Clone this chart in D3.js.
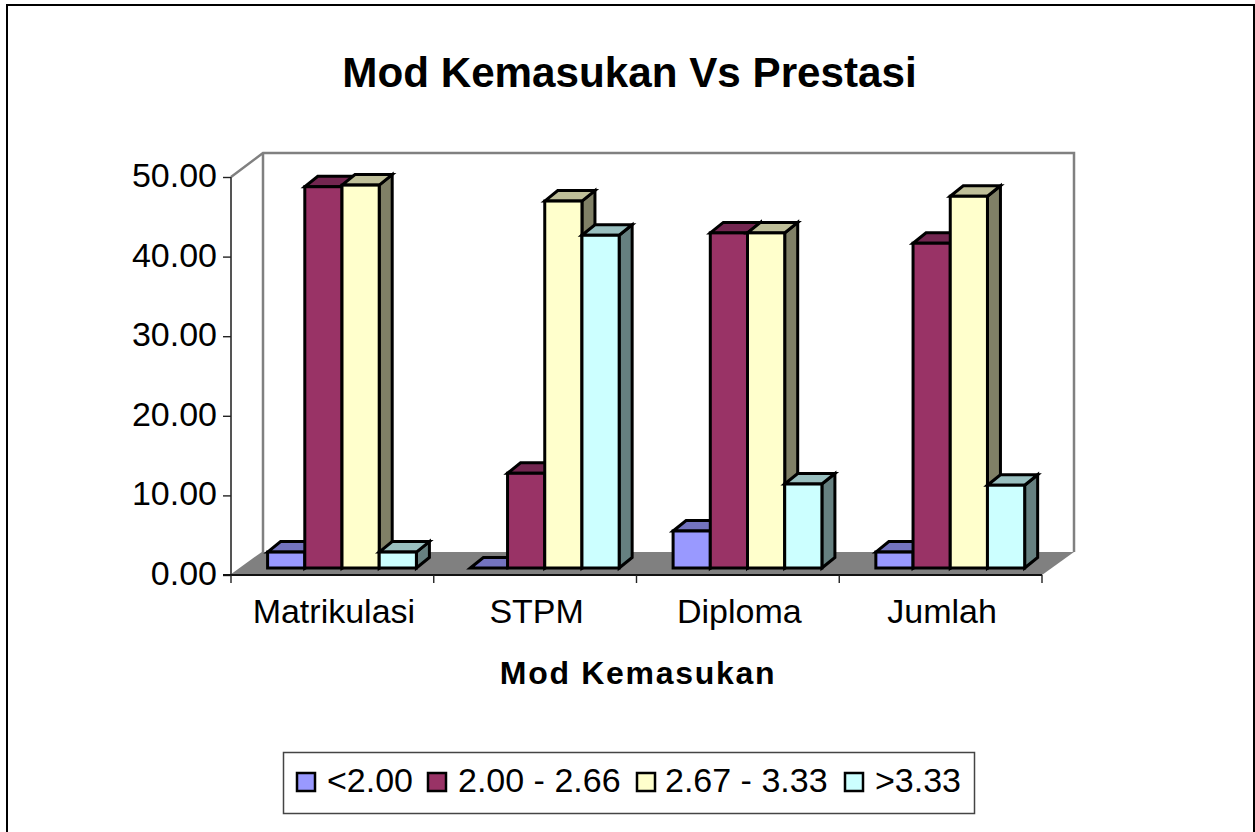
<!DOCTYPE html>
<html><head><meta charset="utf-8"><script src="https://cdn.jsdelivr.net/npm/d3@7"></script>
<style>html,body{margin:0;background:#fff}svg{display:block}text{font-family:"Liberation Sans",Arial,sans-serif;fill:#000}</style></head>
<body><svg id="c" width="1255" height="832"></svg>
<script>
const categories=["Matrikulasi","STPM","Diploma","Jumlah"];
const seriesNames=["<2.00","2.00 - 2.66","2.67 - 3.33",">3.33"];
const lowest=[2.0,0.0,4.65,2.0];
const second=[47.9,11.9,42.1,40.8];
const third=[48.1,46.1,42.1,46.7];
const fourth=[2.0,41.8,10.55,10.4];
const yTicks=[0,10,20,30,40,50];
const front=["#9999ff","#993366","#ffffcc","#ccffff"];
const topC=["#7373bf","#732650","#bfbf99","#99bfbf"];
const sideC=["#4d4d80","#4d1a33","#808066","#668080"];
const seriesValues=[lowest,second,third,fourth];

const svg=d3.select("#c");
const X0=231,X1=1042,YB=575,YT=177,DX=32,DY=23;
const x=d3.scaleBand().domain(categories).range([X0,X1]);
const y=d3.scaleLinear().domain([0,50]).range([YB,YT]);
const inner=d3.scaleBand().domain(d3.range(4)).range([36.6,36.6+37.2*4]);
const line=d3.line();
svg.append("rect").attr("x",7).attr("y",5).attr("width",1247).attr("height",840).attr("fill","#fff").attr("stroke","#000").attr("stroke-width",2);

svg.append("path").attr("d",line([[X0,YB],[X0+DX,YB-DY],[X1+DX,YB-DY],[X1,YB]])+"Z").attr("fill","#808080");
svg.append("path").attr("d",line([[X0,YT],[X0+DX,YT-DY-1],[X1+DX,YT-DY-1],[X1+DX,YB-DY]])).attr("fill","none").attr("stroke","#808080").attr("stroke-width",2.5);
svg.append("path").attr("d",line([[X0+DX,YT-DY-1],[X0+DX,YB-DY]])).attr("fill","none").attr("stroke","#808080").attr("stroke-width",2.5);
svg.append("path").attr("d",line([[X0,YB],[X0+DX,YB-DY]])).attr("stroke","#808080").attr("stroke-width",1.5);

const base=y(0)-7, bdx=13, bdy=10.5;
categories.forEach((c,ci)=>{
  seriesValues.forEach((vals,si)=>{
    const l=x(c)+inner(si), r=l+inner.bandwidth(), b=base, t=base-(YB-y(vals[ci]));
    const g=svg.append("g").attr("stroke","#000").attr("stroke-width",3).attr("stroke-linejoin","miter");
    g.append("path").attr("d",line([[r,b],[r+bdx,b-bdy],[r+bdx,t-bdy],[r,t]])+"Z").attr("fill",sideC[si]);
    g.append("path").attr("d",line([[l,t],[l+bdx,t-bdy],[r+bdx,t-bdy],[r,t]])+"Z").attr("fill",topC[si]);
    g.append("rect").attr("x",l).attr("y",t).attr("width",r-l).attr("height",b-t).attr("fill",front[si]);
  });
});

// axes
const yAxis=svg.append("g").attr("transform",`translate(${X0},0)`).call(d3.axisLeft(y).tickValues(yTicks).tickFormat(d3.format(".2f")).tickSize(8).tickPadding(6));
const xAxis=svg.append("g").attr("transform",`translate(0,${YB})`).call(d3.axisBottom(x).tickSize(0).tickPadding(24));
[yAxis,xAxis].forEach(a=>{a.selectAll("line").attr("stroke","#222").attr("stroke-width",1.4);a.selectAll("text").style("font-size","34px").attr("fill","#000")});
yAxis.select("path").attr("d",`M0,${YT}V${YB}`).attr("stroke","#555").attr("stroke-width",2);
yAxis.selectAll("text").attr("dy","0.28em");
xAxis.select("path").attr("d",`M${X0-8},0H${X1}`).attr("stroke","#111").attr("stroke-width",1.8);
xAxis.selectAll("text").attr("dx",1.5);
xAxis.selectAll(".sep").data(d3.range(5)).enter().append("line").attr("x1",i=>X0+i*x.bandwidth()).attr("x2",i=>X0+i*x.bandwidth()).attr("y1",0).attr("y2",8).attr("stroke","#222").attr("stroke-width",1.4);

svg.append("text").attr("x",629.5).attr("y",87).attr("text-anchor","middle").style("font-size","42.2px").style("font-weight","bold").text("Mod Kemasukan Vs Prestasi");
svg.append("text").attr("x",638).attr("y",684).attr("text-anchor","middle").style("font-size","32px").style("letter-spacing","1.7px").style("font-weight","bold").text("Mod Kemasukan");

svg.append("rect").attr("x",283.5).attr("y",752.5).attr("width",691).attr("height",61).attr("fill","#fff").attr("stroke","#444").attr("stroke-width",1.5);
const lx=[297,428,637,845], ltx=[327,458,665,875];
seriesNames.forEach((n,i)=>{
  svg.append("rect").attr("x",lx[i]).attr("y",773).attr("width",18).attr("height",18).attr("fill",front[i]).attr("stroke","#000").attr("stroke-width",2.5);
  svg.append("text").attr("x",ltx[i]).attr("y",792).style("font-size","34px").text(n);
});
</script></body></html>
